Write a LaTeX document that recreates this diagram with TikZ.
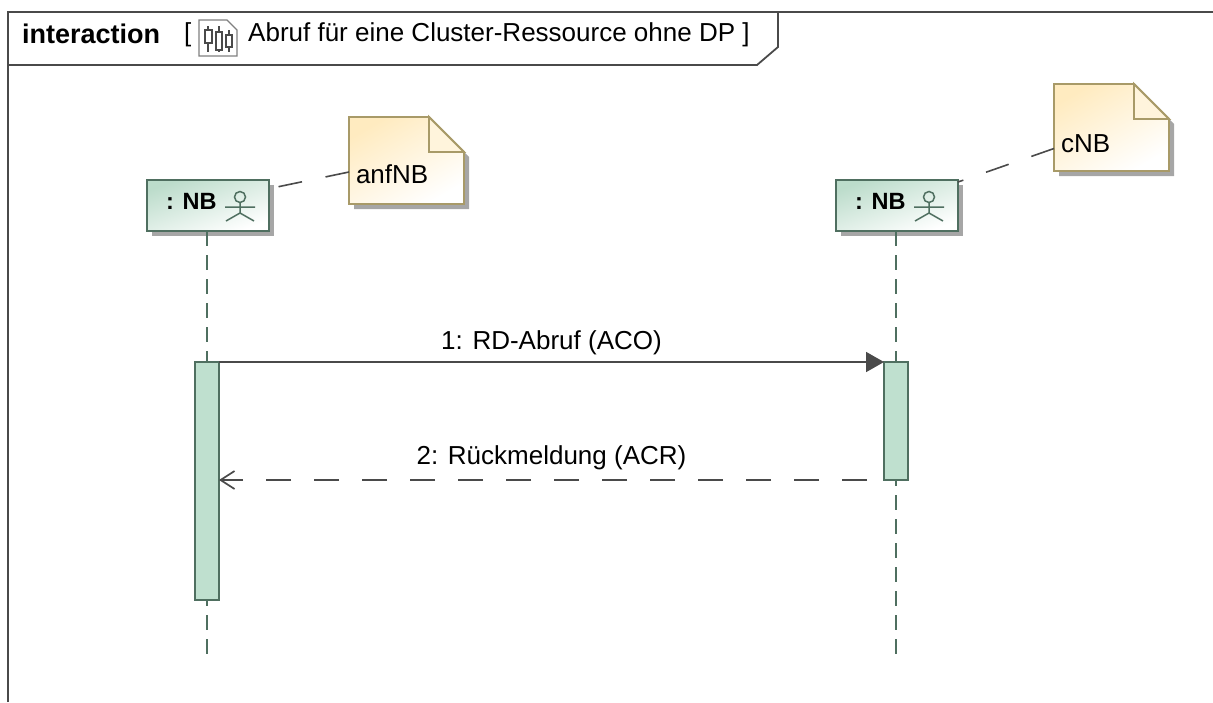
\documentclass[tikz,border=0pt]{standalone}
\usepackage{fontspec}
\setmainfont{Liberation Sans}
\usetikzlibrary{positioning,calc,shadows,backgrounds,arrows.meta}
\definecolor{lineGreen}{HTML}{4F6F60}
\definecolor{barGreen}{HTML}{BFE0CF}
\definecolor{boxGreen}{HTML}{BCDCCB}
\definecolor{noteEdge}{HTML}{A89A68}
\definecolor{noteYellow}{HTML}{FFEBC0}
\definecolor{lineGrey}{HTML}{4A4A4A}

\begin{document}
\begin{tikzpicture}[x=1pt,y=-1pt,font=\fontsize{26}{30}\selectfont,
    actor node/.style={rectangle,draw=lineGreen,line width=1.9pt,minimum width=122pt,minimum height=51pt,inner sep=0pt,outer sep=0pt,shading=axis,left color=boxGreen,right color=white,shading angle=20,drop shadow={shadow xshift=5pt,shadow yshift=-5pt,fill=black!35,opacity=1}},
    note node/.style={rectangle,minimum width=115pt,minimum height=87pt,inner xsep=7pt,inner ysep=0pt,outer sep=0pt,text width=101pt,align=left},
    bar node/.style={rectangle,draw=lineGreen,line width=1.7pt,fill=barGreen,minimum width=24pt,inner sep=0pt,outer sep=0pt},
    life line/.style={lineGreen,line width=1.7pt,dash pattern=on 15pt off 9pt},
    note line/.style={lineGrey,line width=1.6pt,dash pattern=on 24pt off 24pt},
    message/.style={lineGrey,line width=1.8pt},
    frame line/.style={lineGrey,line width=1.8pt},
    figure/.pic={\draw[lineGreen,line width=1.5pt] (0,-8.5) circle (5.5pt) (0,-3) -- (0,7.5) (-15,1.5) -- (15,1.5) (-14,15.5) -- (0,7.5) -- (14,15.5);}]

    \useasboundingbox (0,0) rectangle (1213,702);

    % frame
    \coordinate (frameTop) at (8,12);
    \coordinate (frameBottom) at (8,702);
    \draw[frame line] (frameBottom) -- (frameTop) -- (1213,12);
    \draw[frame line] (8,65) -- (757,65) -- (778,47) -- (778,12);
    \node[anchor=west,inner sep=0pt,font=\fontsize{27}{31}\selectfont\bfseries] (frameTitle) at (22,34) {interaction};
    \node[anchor=west,inner sep=0pt] (frameOpen) at (184,35) {[};
    \node[anchor=west,inner sep=0pt] (frameName) at (248,35) {Abruf für eine Cluster-Ressource ohne DP ]};

    % diagram icon
    \draw[lineGrey!70,line width=1.2pt,fill=white] (199,20) -- (227,20) -- (237,30) -- (237,56) -- (199,56) -- cycle;
    \draw[lineGrey,line width=1.4pt] (208,26) -- (208,52) (219,26) -- (219,52) (229,30) -- (229,52);
    \draw[lineGrey,line width=1.4pt,fill=white] (205,30) rectangle (212,43) (216,32) rectangle (222,50) (226,35) rectangle (232,47);

    % lifelines
    \node[actor node,anchor=north west] (actorA) at (147,180) {};
    \node[actor node,right=567pt of actorA] (actorC) {};
    \node[anchor=west,inner sep=0pt,font=\fontsize{23.5}{28}\selectfont\bfseries] (labelA) at ($(actorA.west)+(19,-4)$) {: NB};
    \node[anchor=west,inner sep=0pt,font=\fontsize{23.5}{28}\selectfont\bfseries] (labelC) at ($(actorC.west)+(19,-4)$) {: NB};
    \pic at ($(actorA.center)+(32,0)$) {figure};
    \pic at ($(actorC.center)+(32,0)$) {figure};

    \coordinate (endA) at (207,655);
    \coordinate (endC) at (896,655);
    \coordinate (topA) at (207,231);
    \coordinate (topC) at (896,231);
    \draw[life line] (topA) -- (endA);
    \draw[life line] (topC) -- (endC);

    \node[bar node,anchor=north,minimum height=238pt] (barA) at (207,362) {};
    \node[bar node,anchor=north,minimum height=118pt] (barC) at (896,362) {};

    % notes
    \node[note node,anchor=north west] (anfNB) at (349,117) {\smash{\raisebox{-23pt}{anfNB}}};
    \node[note node,anchor=north west] (cNB) at (1054,84) {\smash{\raisebox{-25pt}{cNB}}};
    \begin{scope}[on background layer]
        \foreach \n in {anfNB,cNB} {
            \fill[black!35] ($(\n.north west)+(5,5)$) -- ($(\n.north east)+(-30,5)$) -- ($(\n.north east)+(5,40)$) -- ($(\n.south east)+(5,5)$) -- ($(\n.south west)+(5,5)$) -- cycle;
            \draw[noteEdge,line width=1.9pt,shading=axis,left color=noteYellow,right color=white,shading angle=30] (\n.north west) -- ($(\n.north east)+(-35,0)$) -- ($(\n.north east)+(0,35)$) -- (\n.south east) -- (\n.south west) -- cycle;
            \draw[noteEdge,line width=1.9pt,fill=noteYellow!55] ($(\n.north east)+(-35,0)$) -- ($(\n.north east)+(-35,35)$) -- ($(\n.north east)+(0,35)$) -- cycle;
        }
    \end{scope}

    \coordinate (anfEnd) at ($(anfNB.west)+(0,11.5)$);
    \coordinate (anfStart) at ($(actorA.north east)+(8,7)$);
    \coordinate (cEnd) at ($(cNB.west)+(0,21)$);
    \coordinate (cStart) at ($(actorC.north east)+(0,2)$);
    \draw[note line] (anfEnd) -- (anfStart);
    \draw[note line] (cEnd) -- (cStart);

    % messages
    \coordinate (replyEnd) at (barA.east |- barC.south);
    \draw[message,-{Triangle[length=18pt,width=20pt]}] (barA.north east) -- node[above=6pt,black,inner sep=0pt] (msgOne) {1: RD-Abruf (ACO)} (barC.north west);
    \draw[message,dash pattern=on 25pt off 23pt,dash phase=31pt,-{Straight Barb[length=14pt,width=18pt,line width=1.7pt]}] (barC.south west) -- node[above=9pt,black,inner sep=0pt] (msgTwo) {2: Rückmeldung (ACR)} (replyEnd);
\end{tikzpicture}
\end{document}
